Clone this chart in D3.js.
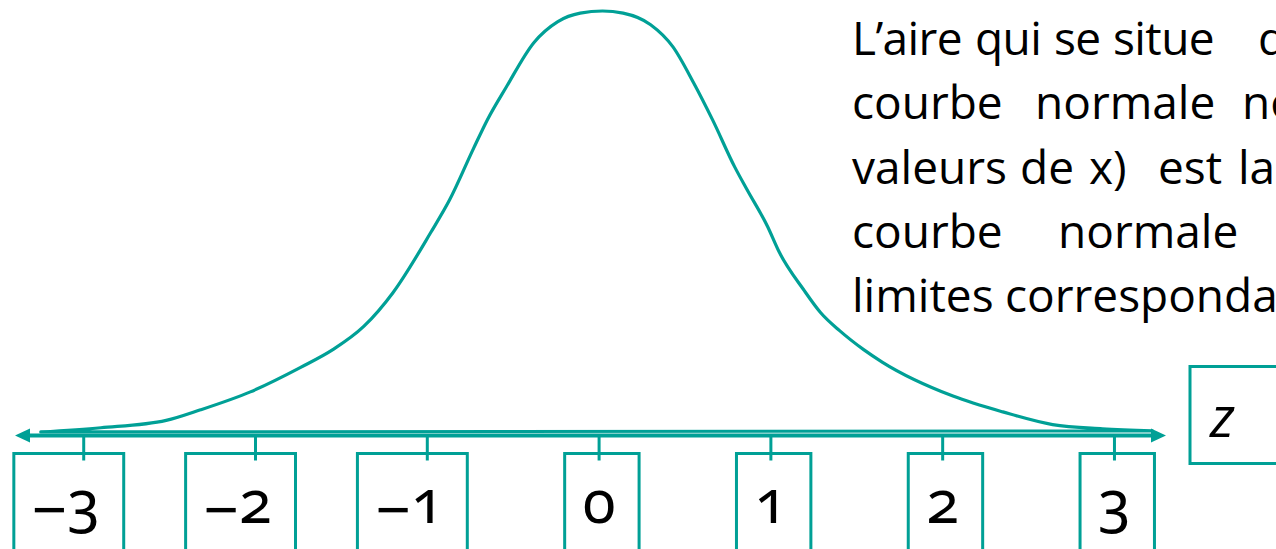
<!DOCTYPE html>
<html>
<head>
<meta charset="utf-8">
<script src="https://cdn.jsdelivr.net/npm/d3@7"></script>
<style>
  html, body { margin: 0; padding: 0; background: #fff; overflow: hidden; }
  svg { display: block; }
</style>
</head>
<body>
<svg id="chart" width="1276" height="549"></svg>
<script>
// z-scores marked under the axis
const zTicks = [-3, -2, -1, 0, 1, 2, 3];
const tickLabels = ["−3", "−2", "−1", "0", "1", "2", "3"];

// traced outline of the bell curve: z position and height (density units)
const curveZ = [-3.25, -2.9, -2.52, -2.32, -2.03, -1.74, -1.55, -1.37, -1.2, -0.98,
  -0.87, -0.73, -0.65, -0.54, -0.38, -0.24, -0.11, 0.02, 0.14, 0.3,
  0.43, 0.55, 0.66, 0.79, 0.86, 0.98, 1.05, 1.19, 1.29, 1.4,
  1.54, 1.65, 2.06, 2.35, 2.64, 2.93, 3.22];
const curveDensity = [0.001, 0.005, 0.012, 0.022, 0.039, 0.062, 0.079, 0.101, 0.133, 0.19,
  0.221, 0.27, 0.297, 0.328, 0.37, 0.39, 0.398, 0.4, 0.398, 0.387,
  0.366, 0.332, 0.297, 0.252, 0.231, 0.196, 0.171, 0.136, 0.114, 0.097,
  0.079, 0.067, 0.035, 0.02, 0.008, 0.004, 0.002];

// axis name shown in the box at the right end of the axis
const axisName = "z";

// explanatory paragraph, one array of words per line
const paragraphLines = [
  ["L’aire", "qui", "se", "situe", "dans", "la"],
  ["courbe", "normale", "non", "standard"],
  ["valeurs", "de", "x)", "est", "la", "même"],
  ["courbe", "normale", "standard"],
  ["limites", "correspondantes."]
];

// ---- layout ----
const W = 1276, H = 549;
const teal = "#00A096";
const x = d3.scaleLinear().domain([-3.4, 3.3]).range([15, 1166]);
const y = d3.scaleLinear().domain([0, 0.4]).range([433, 11]);
const axisY = y(0) + 2.5;

const svg = d3.select("#chart");

// bell curve, closed along its base
const pts = curveZ.map((z, i) => [z, curveDensity[i]]);
const line = d3.line()
  .x(d => x(d[0]))
  .y(d => y(d[1]))
  .curve(d3.curveMonotoneX);
svg.append("path")
  .attr("d", line(pts) + "Z")
  .attr("fill", "none")
  .attr("stroke", teal)
  .attr("stroke-width", 3.2)
  .attr("stroke-linejoin", "round");

// double-headed horizontal axis
const [ax0, ax1] = x.range();
const head = 15, half = 7;
svg.append("line")
  .attr("x1", ax0 + head - 2).attr("x2", ax1 - head + 2)
  .attr("y1", axisY).attr("y2", axisY)
  .attr("stroke", teal).attr("stroke-width", 4);
svg.append("path")
  .attr("d", `M${ax0},${axisY}L${ax0 + head},${axisY - half}L${ax0 + head},${axisY + half}Z`)
  .attr("fill", teal);
svg.append("path")
  .attr("d", `M${ax1},${axisY}L${ax1 - head},${axisY - half}L${ax1 - head},${axisY + half}Z`)
  .attr("fill", teal);

// tick marks and boxed z labels
const boxTop = axisY + 18;
const ticks = svg.append("g");
zTicks.forEach((t, i) => {
  const tx = x(t);
  const g = ticks.append("g");
  const str = tickLabels[i];
  const label = g.append("text")
    .attr("y", axisY + 87)
    .attr("text-anchor", "end")
    .attr("font-family", "'Noto Sans', 'Open Sans', sans-serif")
    .attr("font-size", 60)
    .style("font-feature-settings", "'onum' 1")
    .attr("fill", "#000");
  if (str.length > 1) {
    // minus sign slightly larger and lowered to sit mid-height of the old-style figures
    label.append("tspan").attr("dy", 9.5).attr("font-size", 62).text(str.slice(0, -1));
    label.append("tspan").attr("dy", -9.5).text(str.slice(-1));
  } else {
    label.text(str);
  }
  const n = str.length;
  const digitW = label.node().getSubStringLength(n - 1, 1);
  label.attr("x", tx + digitW / 2);
  const bb = label.node().getBBox();
  const left = bb.x - 18, right = tx + 40;
  g.insert("path", "text")
    .attr("d", `M${left},${H + 10}V${boxTop}H${right}V${H + 10}`)
    .attr("fill", "none")
    .attr("stroke", teal)
    .attr("stroke-width", 3);
  g.append("line")
    .attr("x1", tx).attr("x2", tx)
    .attr("y1", axisY).attr("y2", axisY + 25)
    .attr("stroke", teal).attr("stroke-width", 3);
});

// axis name box
const zLeft = ax1 + 24;
svg.append("path")
  .attr("d", `M${W + 10},${axisY - 69}H${zLeft}V${axisY + 28}H${W + 10}`)
  .attr("fill", "none")
  .attr("stroke", teal)
  .attr("stroke-width", 3);
svg.append("text")
  .attr("x", zLeft + 20)
  .attr("y", axisY + 1)
  .attr("font-family", "'Open Sans', 'Noto Sans', sans-serif")
  .attr("font-style", "italic")
  .attr("font-size", 56)
  .attr("fill", "#000")
  .text(axisName);

// justified paragraph, upper right (word start positions and tracking per line)
const wordX = [
  [852, 975, 1054, 1113, 1258, 1340],
  [852, 1035, 1242, 1340],
  [852, 1020, 1089, 1158, 1238, 1300],
  [852, 1058, 1290],
  [852, 1005]
];
const lineTracking = [-0.6, 0, 0, 0, 0];
const para = svg.append("g")
  .attr("font-family", "'Open Sans', 'Noto Sans', sans-serif")
  .attr("font-size", 46)
  .attr("fill", "#000");
paragraphLines.forEach((words, li) => {
  const t = para.append("text")
    .attr("y", 55 + li * 64.25)
    .attr("letter-spacing", lineTracking[li]);
  words.forEach((w, wi) => {
    t.append("tspan").attr("x", wordX[li][wi]).text(w);
  });
});
</script>
</body>
</html>
